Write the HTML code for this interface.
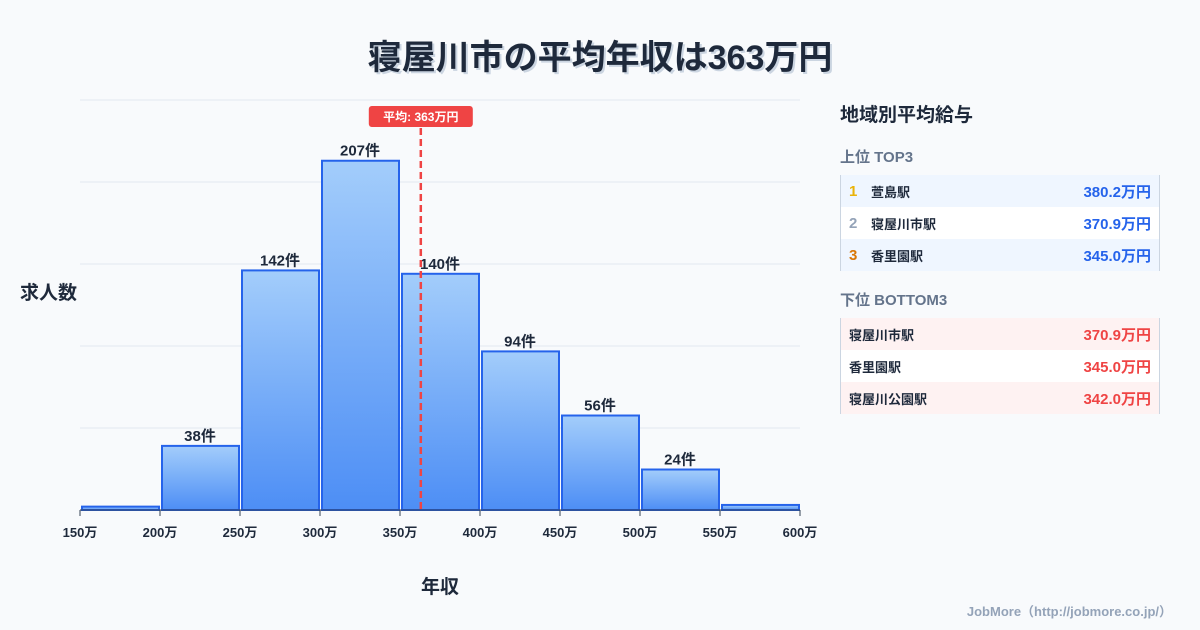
<!DOCTYPE html>
<html><head><meta charset="utf-8"><style>
body{margin:0;width:1200px;height:630px;background:#f8fafc;font-family:"Liberation Sans","Noto Sans CJK JP",sans-serif;position:relative;overflow:hidden;color:#1e293b}
.title{position:absolute;top:30px;left:0;width:1200px;text-align:center;font-size:34px;font-weight:bold;color:#1e293b;text-shadow:2px 2px 0 #cbd5e1}
.panel{position:absolute;left:840px;top:100px;width:320px}
.ph{font-size:19px;font-weight:bold;margin-bottom:19px}
.sh{font-size:15px;font-weight:bold;color:#64748b;margin:0 0 8px}
.tbl{border-left:1px solid #cbd5e1;border-right:1px solid #cbd5e1;margin-bottom:18px}
.row{height:32px;display:flex;align-items:center;font-size:13px;font-weight:bold;padding:0 8px}
.row .rk{width:22px;font-size:15px}
.row .v{margin-left:auto;font-size:15px}
.foot{position:absolute;right:28px;bottom:10px;font-size:13px;font-weight:bold;color:#94a3b8}
</style></head><body>
<div class="title">寝屋川市の平均年収は363万円</div>
<svg id="chart" width="840" height="630" style="position:absolute;left:0;top:0">
<defs><linearGradient id="g" x1="0" y1="0" x2="0" y2="1"><stop offset="0" stop-color="#a3cdfb"/><stop offset="1" stop-color="#4d8ef5"/></linearGradient></defs>
</svg>
<div class="panel">
<div class="ph">地域別平均給与</div>
<div class="sh">上位 TOP3</div>
<div class="tbl">
<div class="row" style="background:#eff6ff"><span class="rk" style="color:#eab308">1</span>萱島駅<span class="v" style="color:#2563eb">380.2万円</span></div>
<div class="row" style="background:#fff"><span class="rk" style="color:#94a3b8">2</span>寝屋川市駅<span class="v" style="color:#2563eb">370.9万円</span></div>
<div class="row" style="background:#eff6ff"><span class="rk" style="color:#d97706">3</span>香里園駅<span class="v" style="color:#2563eb">345.0万円</span></div>
</div>
<div class="sh">下位 BOTTOM3</div>
<div class="tbl">
<div class="row" style="background:#fef2f2">寝屋川市駅<span class="v" style="color:#ef4444">370.9万円</span></div>
<div class="row" style="background:#fff">香里園駅<span class="v" style="color:#ef4444">345.0万円</span></div>
<div class="row" style="background:#fef2f2">寝屋川公園駅<span class="v" style="color:#ef4444">342.0万円</span></div>
</div>
</div>
<div class="foot">JobMore（http://jobmore.co.jp/）</div>
<script>
const binEdges=[150,200,250,300,350,400,450,500,550,600];
const counts=[2,38,142,207,140,94,56,24,3];
const meanValue=363;
const yMax=243;
const svg=document.getElementById('chart');
const NS='http://www.w3.org/2000/svg';
const X0=80,X1=800,Y0=510,Y1=100;
const xs=v=>X0+(v-150)/(600-150)*(X1-X0);
const ys=v=>Y0-v/yMax*(Y0-Y1);
function mk(t,a,txt){const e=document.createElementNS(NS,t);for(const k in a)e.setAttribute(k,a[k]);if(txt!=null)e.textContent=txt;svg.appendChild(e);return e;}
for(let i=0;i<=5;i++){const y=Y1+i*(Y0-Y1)/5;
const g=mk('line',{x1:X0,x2:X1,y1:y,y2:y,stroke:'#e2e8f0','stroke-width':1});

}
counts.forEach((c,i)=>{const x=xs(binEdges[i]),w=xs(binEdges[i+1])-x;
const r=mk('rect',{x:x+2,y:ys(c),width:w-3,height:Y0-ys(c),fill:'url(#g)',stroke:'#2563eb','stroke-width':2});


if(c>10){const t=mk('text',{x:x+w/2,y:ys(c)-5,'text-anchor':'middle','font-size':15,'font-weight':'bold',fill:'#1e293b'},c+'件');

}});
const ax=mk('line',{x1:X0,x2:X1,y1:Y0,y2:Y0,stroke:'#334155','stroke-width':1});


binEdges.forEach(v=>{const x=xs(v);
mk('line',{x1:x,x2:x,y1:Y0,y2:Y0+6,stroke:'#334155'});
const t=mk('text',{x:x,y:Y0+27,'text-anchor':'middle','font-size':13,'font-weight':'bold',fill:'#1e293b'},v+'万');

});
const mx=xs(meanValue);
const ml=mk('line',{x1:mx,x2:mx,y1:128,y2:Y0,stroke:'#ef4444','stroke-width':2.5,'stroke-dasharray':'7,4'});


const mb=mk('rect',{x:mx-52,y:106,width:104,height:21,rx:3,fill:'#ef4444'});


const mt=mk('text',{x:mx,y:121,'text-anchor':'middle','font-size':12,'font-weight':'bold',fill:'#fff'},'平均: '+meanValue+'万円');


const yt=mk('text',{x:20,y:299,'font-size':19,'font-weight':'bold',fill:'#1e293b'},'求人数');


const xt=mk('text',{x:440,y:593,'text-anchor':'middle','font-size':19,'font-weight':'bold',fill:'#1e293b'},'年収');


</script>
</body></html>
